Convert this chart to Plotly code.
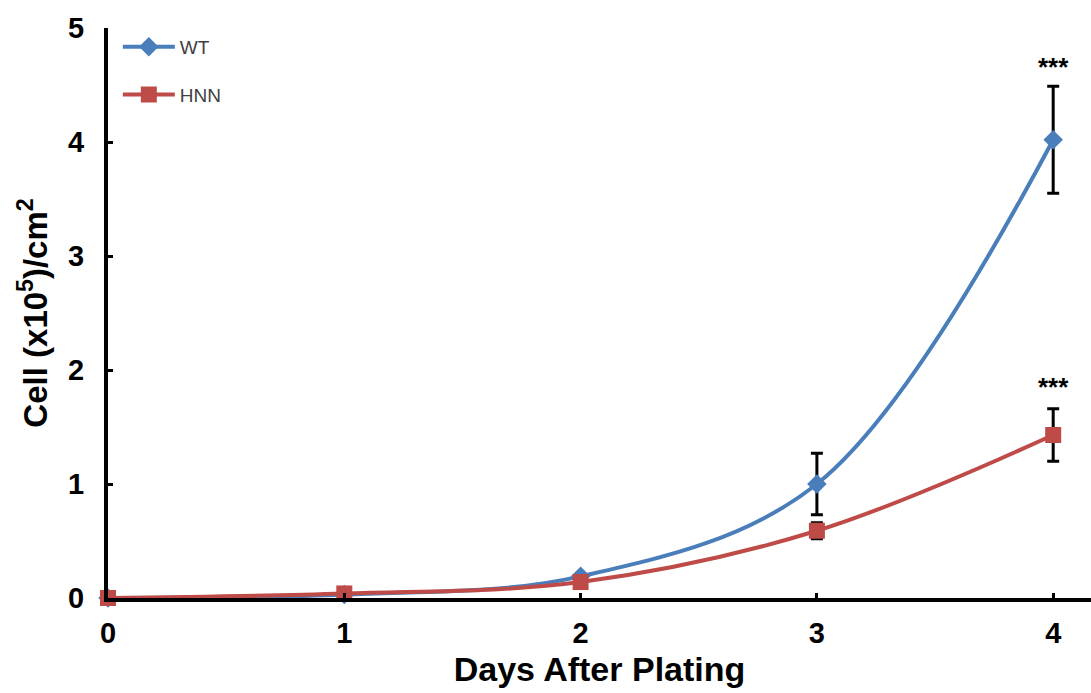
import plotly.graph_objects as go

days = [0, 1, 2, 3, 4]
wt = [0.0, 0.03, 0.19, 1.0, 4.02]
wt_err = [0, 0, 0, 0.27, 0.47]
hnn = [0.0, 0.04, 0.14, 0.59, 1.43]
hnn_err = [0, 0, 0, 0.07, 0.23]
x_ticks = [0, 1, 2, 3, 4]
y_ticks = [0, 1, 2, 3, 4, 5]
sig_labels = ["<b>***</b>", "<b>***</b>"]
sig_y = [4.66, 1.85]

FONT = "Liberation Sans"

fig = go.Figure()
fig.add_trace(go.Scatter(
    x=days, y=wt, name="WT", mode="lines+markers",
    line=dict(color="#4a7ebb", width=4, shape="spline", smoothing=1),
    marker=dict(symbol="diamond", size=15, color="#4a7ebb"),
    error_y=dict(type="data", array=wt_err, color="black", thickness=3, width=6),
    legendgroup="a", cliponaxis=False,
))
fig.add_trace(go.Scatter(
    x=days, y=hnn, name="HNN", mode="lines+markers",
    line=dict(color="#be4b48", width=4, shape="spline", smoothing=1),
    marker=dict(symbol="square", size=16, color="#be4b48"),
    error_y=dict(type="data", array=hnn_err, color="black", thickness=3, width=6),
    legendgroup="b", cliponaxis=False,
))
for yv, lab in zip(sig_y, sig_labels):
    fig.add_annotation(x=4, y=yv, text=lab, showarrow=False,
                       font=dict(family=FONT, size=26, color="black"))

fig.update_layout(
    width=1091, height=693,
    margin=dict(l=108, r=0, t=28, b=95),
    plot_bgcolor="white", paper_bgcolor="white",
    showlegend=True,
    legend=dict(x=0.01, y=1.0, xanchor="left", yanchor="top",
                font=dict(family=FONT, size=19, color="#404040"),
                tracegroupgap=20, itemwidth=52, bgcolor="rgba(0,0,0,0)"),
    xaxis=dict(range=[0, 4.16], tickvals=x_ticks, showgrid=False, zeroline=False,
               showline=True, linecolor="black", linewidth=4,
               ticks="inside", ticklen=5, tickwidth=3, tickcolor="black",
               ticklabelstandoff=6,
               tickfont=dict(family=FONT, size=29, color="black", weight="bold"),
               title=dict(text="<b>Days After Plating</b>", standoff=10,
                          font=dict(family=FONT, size=34, color="black"))),
    yaxis=dict(range=[0, 5], tickvals=y_ticks, showgrid=False, zeroline=False,
               showline=True, linecolor="black", linewidth=4,
               ticks="inside", ticklen=5, tickwidth=3, tickcolor="black",
               ticklabelstandoff=14,
               tickfont=dict(family=FONT, size=29, color="black", weight="bold"),
               title=dict(text="<b>Cell (x10<sup>5</sup>)/cm<sup>2</sup></b>", standoff=12,
                          font=dict(family=FONT, size=33, color="black"))),
)
fig.write_html("out.html")
